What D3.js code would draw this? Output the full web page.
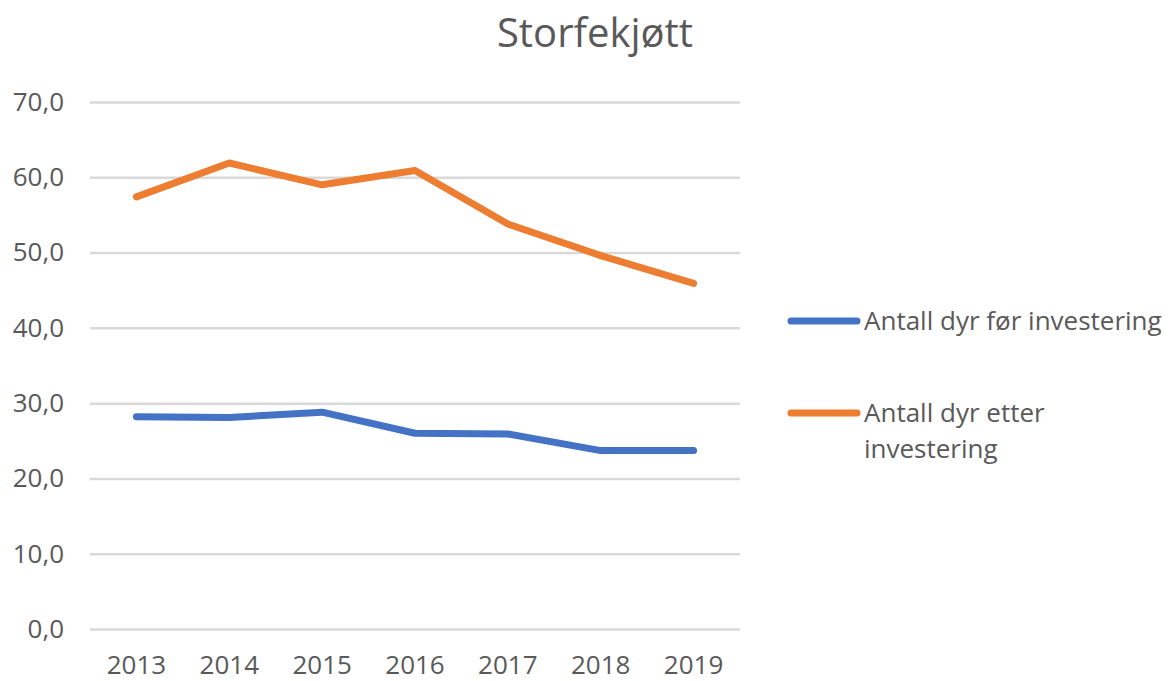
<!DOCTYPE html>
<html>
<head>
<meta charset="utf-8">
<script src="https://cdn.jsdelivr.net/npm/d3@7"></script>
<style>
  body { margin: 0; background: #fff; }
  text { font-family: "Open Sans", sans-serif; fill: #595959; }
</style>
</head>
<body>
<div id="chart"></div>
<script>
// data
var years = ["2013", "2014", "2015", "2016", "2017", "2018", "2019"];
var foer = [28.2, 28.1, 28.8, 26.0, 25.9, 23.7, 23.7];
var etter = [57.4, 61.9, 59.0, 60.9, 53.8, 49.6, 45.9];
var yTicks = [0, 10, 20, 30, 40, 50, 60, 70];
var seriesNames = [["Antall dyr før investering"], ["Antall dyr etter", "investering"]];
var colors = ["#4472C4", "#ED7D31"];

var width = 1176, height = 681;
var svg = d3.select("#chart").append("svg")
    .attr("width", width)
    .attr("height", height);

var x = d3.scaleBand().domain(years).range([90, 740]);
var y = d3.scaleLinear().domain([0, 70]).range([629, 102]);

// title
svg.append("text")
    .attr("x", 595)
    .attr("y", 47)
    .attr("text-anchor", "middle")
    .style("font-size", "40px")
    .text("Storfekjøtt");

// gridlines + y labels
var yAxis = svg.append("g")
    .attr("transform", "translate(90,0)")
    .call(d3.axisLeft(y)
        .tickValues(yTicks)
        .tickSize(-650)
        .tickPadding(26)
        .tickFormat(function (d) { return d3.format(".1f")(d).replace(".", ","); }));
yAxis.select(".domain").remove();
yAxis.selectAll(".tick line").attr("stroke", "#d9d9d9").attr("stroke-width", 2.5);
yAxis.selectAll(".tick text")
    .style("font-size", "26px")
    .style("font-family", "'Open Sans', sans-serif")
    .attr("fill", "#595959");

// x labels
var xAxis = svg.append("g")
    .attr("transform", "translate(0,629)")
    .call(d3.axisBottom(x).tickSize(0).tickPadding(27));
xAxis.select(".domain").remove();
xAxis.selectAll(".tick text")
    .style("font-size", "26px")
    .style("font-family", "'Open Sans', sans-serif")
    .attr("fill", "#595959");

// lines
var line = d3.line()
    .x(function (d, i) { return x(years[i]) + x.bandwidth() / 2; })
    .y(function (d) { return y(d); });

[foer, etter].forEach(function (s, k) {
    svg.append("path")
        .datum(s)
        .attr("d", line)
        .attr("fill", "none")
        .attr("stroke", colors[k])
        .attr("stroke-width", 7)
        .attr("stroke-linecap", "round")
        .attr("stroke-linejoin", "round");
});

// legend
var legendY = [321, 413];
seriesNames.forEach(function (lines, k) {
    var g = svg.append("g").attr("transform", "translate(0," + legendY[k] + ")");
    g.append("line")
        .attr("x1", 791).attr("x2", 857)
        .attr("y1", 0).attr("y2", 0)
        .attr("stroke", colors[k])
        .attr("stroke-width", 7)
        .attr("stroke-linecap", "round");
    lines.forEach(function (t, j) {
        g.append("text")
            .attr("x", 864)
            .attr("y", 9 + j * 36)
            .style("font-size", "26px")
            .text(t);
    });
});
</script>
</body>
</html>
